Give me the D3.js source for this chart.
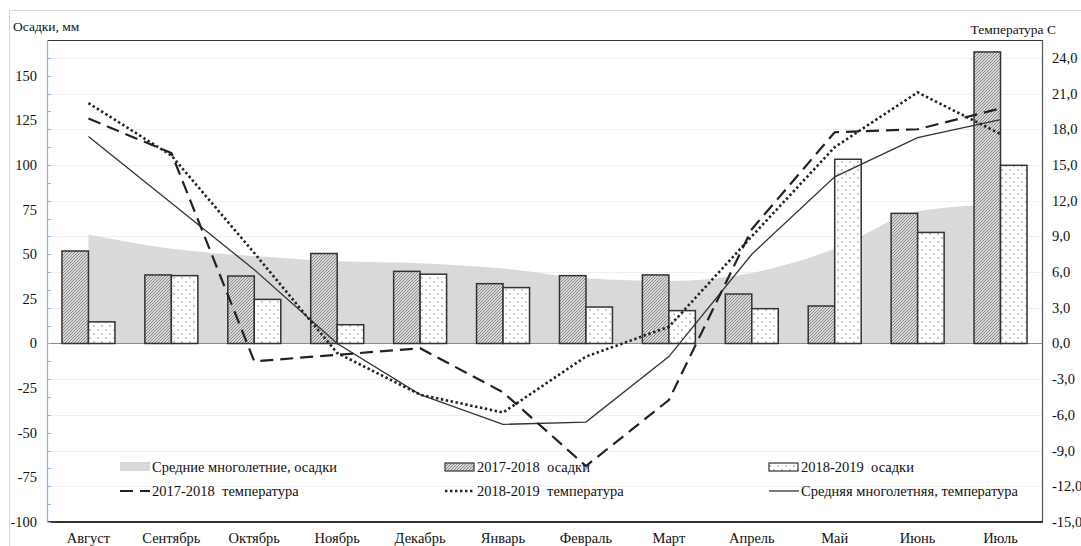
<!DOCTYPE html>
<html>
<head>
<meta charset="utf-8">
<script src="https://cdn.jsdelivr.net/npm/d3@7"></script>
<style>
  html, body { margin: 0; padding: 0; background: #fff; }
  svg { display: block; }
  svg text { font-family: "Liberation Serif", "Times New Roman", serif; }
</style>
</head>
<body>
<svg id="chart" width="1081" height="546"></svg>
<script>
// Months of the hydrological year
const months = ['Август','Сентябрь','Октябрь','Ноябрь','Декабрь','Январь','Февраль','Март','Апрель','Май','Июнь','Июль'];

// Precipitation, mm
const precipNorm = [61, 53, 49, 46, 45, 42, 36.5, 35, 39.5, 53, 74, 78];
const precip1718 = [51.8, 38.4, 37.8, 50.4, 40.4, 33.5, 38, 38.4, 27.7, 21, 72.9, 163.3];
const precip1819 = [12.1, 38, 24.7, 10.5, 38.8, 31.3, 20.4, 18.4, 19.5, 103.2, 62.2, 99.8];

// Air temperature, °C
const temp1718 = [18.9, 16.0, -1.5, -0.95, -0.4, -4.1, -10.3, -4.75, 9.6, 17.75, 18.0, 19.75];
const temp1819 = [20.2, 15.8, 7.6, -0.8, -4.3, -5.8, -1.1, 1.4, 9.0, 16.5, 21.1, 17.6];
const tempNorm = [17.4, 11.8, 6.2, 0.0, -4.3, -6.8, -6.6, -1.1, 7.5, 14.0, 17.3, 18.8];

// Axis ticks
const precipTicks = [-100, -75, -50, -25, 0, 25, 50, 75, 100, 125, 150];
const precipMinorTicks = d3.range(-100, 161, 10);
const tempTicks = [-15, -12, -9, -6, -3, 0, 3, 6, 9, 12, 15, 18, 21, 24];

const svg = d3.select('#chart');
const plot = { left: 47, right: 1042, top: 40, bottom: 522 };
const ink = '#111';

// Outer chart border
svg.append('rect')
  .attr('x', 9.5).attr('y', 10.5).attr('width', 1100).attr('height', 600)
  .attr('fill', 'none').attr('stroke', '#d9d9d9').attr('stroke-width', 1);

// Fill patterns for bars
const defs = svg.append('defs');
const hatch = defs.append('pattern')
  .attr('id', 'hatch').attr('patternUnits', 'userSpaceOnUse')
  .attr('width', 3).attr('height', 3);
hatch.append('rect').attr('width', 3).attr('height', 3).attr('fill', '#d8d8d8');
hatch.append('path')
  .attr('d', 'M-1,1 l2,-2 M0,3 l3,-3 M2,4 l2,-2')
  .attr('stroke', '#555').attr('stroke-width', 0.6);

const dots = defs.append('pattern')
  .attr('id', 'dots').attr('patternUnits', 'userSpaceOnUse')
  .attr('width', 8).attr('height', 8);
dots.append('rect').attr('width', 8).attr('height', 8).attr('fill', '#fff');
dots.append('circle').attr('cx', 2).attr('cy', 2).attr('r', 0.65).attr('fill', '#666');
dots.append('circle').attr('cx', 6).attr('cy', 6).attr('r', 0.65).attr('fill', '#666');

// Scales
const x0 = d3.scaleBand().domain(months).range([plot.left, plot.right]).padding(0);
const x1 = d3.scaleBand().domain(['a', 'b']).range([0, x0.bandwidth()]).paddingInner(0).paddingOuter(0.565);
const yP = d3.scaleLinear().domain([-100, 170]).range([plot.bottom, plot.top]);
const yT = d3.scaleLinear().domain([-15, 25.5]).range([plot.bottom, plot.top]);
const cx = m => x0(m) + x0.bandwidth() / 2;

// Horizontal gridlines at temperature ticks
svg.append('g').selectAll('line')
  .data(tempTicks.filter(t => t !== 0 && t !== -15))
  .join('line')
  .attr('x1', plot.left).attr('x2', plot.right)
  .attr('y1', d => Math.round(yT(d)) + 0.5).attr('y2', d => Math.round(yT(d)) + 0.5)
  .attr('stroke', '#efefef').attr('stroke-width', 1);

// Long-term mean precipitation (area)
const area = d3.area()
  .x((d, i) => cx(months[i]))
  .y0(yP(0))
  .y1(d => yP(d))
  .curve(d3.curveMonotoneX);
svg.append('path').datum(precipNorm)
  .attr('d', area).attr('fill', '#d9d9d9');

// Zero line
svg.append('line')
  .attr('x1', plot.left).attr('x2', plot.right)
  .attr('y1', yP(0)).attr('y2', yP(0))
  .attr('stroke', '#8c8c8c').attr('stroke-width', 1.2);

// Precipitation bars
const barG = svg.append('g');
barG.selectAll('rect.a').data(precip1718).join('rect')
  .attr('class', 'a')
  .attr('x', (d, i) => x0(months[i]) + x1('a'))
  .attr('width', x1.bandwidth())
  .attr('y', d => yP(d)).attr('height', d => yP(0) - yP(d))
  .attr('fill', 'url(#hatch)').attr('stroke', '#333').attr('stroke-width', 1.5);
barG.selectAll('rect.b').data(precip1819).join('rect')
  .attr('class', 'b')
  .attr('x', (d, i) => x0(months[i]) + x1('b'))
  .attr('width', x1.bandwidth())
  .attr('y', d => yP(d)).attr('height', d => yP(0) - yP(d))
  .attr('fill', 'url(#dots)').attr('stroke', '#333').attr('stroke-width', 1.5);

// Temperature lines
const line = d3.line().x((d, i) => cx(months[i])).y(d => yT(d));
svg.append('path').datum(tempNorm)
  .attr('d', line).attr('fill', 'none')
  .attr('stroke', '#333').attr('stroke-width', 1.3);
svg.append('path').datum(temp1718)
  .attr('d', line).attr('fill', 'none')
  .attr('stroke', '#222').attr('stroke-width', 2.2)
  .attr('stroke-dasharray', '13,7');
svg.append('path').datum(temp1819)
  .attr('d', line).attr('fill', 'none')
  .attr('stroke', '#222').attr('stroke-width', 2.6)
  .attr('stroke-dasharray', '2.4,2.6');

// Plot frame: top, right, bottom
svg.append('line').attr('x1', plot.left).attr('x2', plot.right)
  .attr('y1', plot.top + 0.5).attr('y2', plot.top + 0.5)
  .attr('stroke', '#333').attr('stroke-width', 1);
svg.append('line').attr('x1', plot.right + 0.5).attr('x2', plot.right + 0.5)
  .attr('y1', plot.top).attr('y2', plot.bottom)
  .attr('stroke', '#555').attr('stroke-width', 1.2);
svg.append('line').attr('x1', plot.left).attr('x2', plot.right + 1)
  .attr('y1', plot.bottom).attr('y2', plot.bottom)
  .attr('stroke', '#333').attr('stroke-width', 1.8);

// Left precipitation axis
const leftAxis = svg.append('g');
leftAxis.append('line')
  .attr('x1', plot.left + 0.5).attr('x2', plot.left + 0.5)
  .attr('y1', plot.top).attr('y2', plot.bottom)
  .attr('stroke', '#8fb3d9').attr('stroke-width', 1.3);
leftAxis.selectAll('line.tick').data(precipMinorTicks).join('line')
  .attr('class', 'tick')
  .attr('x1', plot.left).attr('x2', plot.left + 4)
  .attr('y1', d => Math.round(yP(d)) + 0.5).attr('y2', d => Math.round(yP(d)) + 0.5)
  .attr('stroke', '#8fb3d9').attr('stroke-width', 1);
leftAxis.selectAll('text').data(precipTicks).join('text')
  .attr('x', 37).attr('y', d => yP(d) + 5)
  .attr('text-anchor', 'end').attr('font-size', 14.5).attr('fill', ink)
  .text(d => d);

// Right temperature axis
svg.append('g').selectAll('text').data(tempTicks).join('text')
  .attr('x', 1052).attr('y', d => yT(d) + 5)
  .attr('font-size', 14.5).attr('fill', ink)
  .text(d => d3.format('.1f')(d).replace('.', ',').replace('−', '-'));

// Month labels
svg.append('g').selectAll('text').data(months).join('text')
  .attr('x', d => cx(d)).attr('y', 543)
  .attr('text-anchor', 'middle').attr('font-size', 14.5).attr('fill', ink)
  .text(d => d);

// Axis titles
svg.append('text').attr('x', 13).attr('y', 31).attr('font-size', 13.5).attr('fill', ink).text('Осадки, мм');
svg.append('text').attr('x', 1056).attr('y', 34).attr('text-anchor', 'end')
  .attr('font-size', 13.5).attr('fill', ink).text('Температура С');

// Legend
const legend = svg.append('g').attr('font-size', 14.5).attr('fill', ink);
const items = [
  { col: 0, row: 0, kind: 'area', label: 'Средние многолетние, осадки' },
  { col: 1, row: 0, kind: 'hatch', label: '2017-2018  осадки' },
  { col: 2, row: 0, kind: 'dots', label: '2018-2019  осадки' },
  { col: 0, row: 1, kind: 'dash', label: '2017-2018  температура' },
  { col: 1, row: 1, kind: 'dot', label: '2018-2019  температура' },
  { col: 2, row: 1, kind: 'solid', label: 'Средняя многолетняя, температура' }
];
const colX = [120, 445, 769];
const rowY = [467, 491];
items.forEach(it => {
  const sx = colX[it.col], sy = rowY[it.row];
  if (it.kind === 'area') {
    legend.append('rect').attr('x', sx).attr('y', sy - 5).attr('width', 30).attr('height', 9).attr('fill', '#d9d9d9');
  } else if (it.kind === 'hatch' || it.kind === 'dots') {
    legend.append('rect').attr('x', sx).attr('y', sy - 4).attr('width', 29).attr('height', 8)
      .attr('fill', it.kind === 'hatch' ? 'url(#hatch)' : 'url(#dots)')
      .attr('stroke', '#333').attr('stroke-width', 1.2);
  } else {
    const l = legend.append('line').attr('x1', sx).attr('x2', sx + 30)
      .attr('y1', sy).attr('y2', sy).attr('stroke', '#222');
    if (it.kind === 'dash') l.attr('stroke-width', 2.2).attr('stroke-dasharray', '13,7');
    if (it.kind === 'dot') l.attr('stroke-width', 2.6).attr('stroke-dasharray', '2.4,2.6');
    if (it.kind === 'solid') l.attr('stroke-width', 1.3).attr('stroke', '#333');
  }
  legend.append('text').attr('x', sx + 32).attr('y', sy + 5).attr('xml:space', 'preserve').text(it.label);
});
</script>
</body>
</html>
